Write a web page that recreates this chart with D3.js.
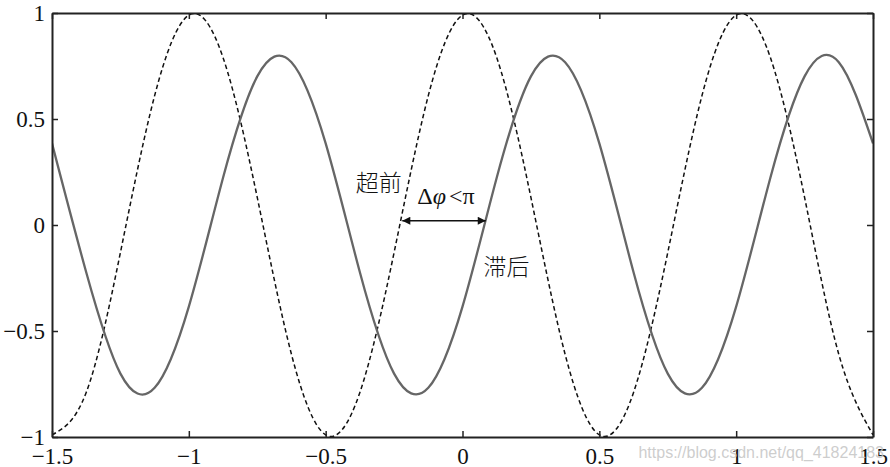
<!DOCTYPE html>
<html>
<head>
<meta charset="utf-8">
<script src="https://cdn.jsdelivr.net/npm/d3@7"></script>
<style>
  body { margin: 0; background: #fff; }
  svg { display: block; }
</style>
</head>
<body>
<div id="chart"></div>
<script>
// two sinusoids, dashed = reference, solid = lagging signal
// values every 0.125 on x

let xSamples = d3.range(25).map(k => -1.5 + k * 0.125)
let dashedY = [-0.99, -0.79, -0.13, 0.61, 0.99, 0.79, 0.13, -0.61,
               -0.99, -0.79, -0.13, 0.61, 0.99, 0.79, 0.13, -0.61,
               -0.99, -0.79, -0.13, 0.61, 0.99, 0.79, 0.13, -0.61, -0.99]
let solidY = [0.385, -0.223, -0.701, -0.768, -0.385, 0.223, 0.701, 0.768,
              0.385, -0.223, -0.701, -0.768, -0.385, 0.223, 0.701, 0.768,
              0.385, -0.223, -0.701, -0.768, -0.385, 0.223, 0.701, 0.768, 0.385]

let xTicks = [-1.5, -1, -0.5, 0, 0.5, 1, 1.5]
let yTicks = [-1, -0.5, 0, 0.5, 1]

// annotation anchors (data units)
let arrowFrom = [-0.22, 0.02]
let arrowTo = [0.085, 0.02]
let leadLabel = {text: '超前', x: -0.39, y: 0.2}
let lagLabel = {text: '滞后', x: 0.077, y: -0.2}
let phaseLabel = {x: -0.165, y: 0.1}

let margin = {top: 13, bottom: 30, left: 52, right: 17}
let width = 890 - margin.left - margin.right
let height = 467 - margin.top - margin.bottom

let svg = d3.select('#chart')
    .append('svg')
    .attr('width', 890)
    .attr('height', 467)

let g = svg.append('g')
    .attr('transform', `translate(${margin.left},${margin.top})`)

let x = d3.scaleLinear().domain([-1.5, 1.5]).range([0, width])
let y = d3.scaleLinear().domain([-1, 1]).range([height, 0])

let fmt = d => d3.format('')(d).replace('-', '\u2212')

g.append('defs').append('clipPath').attr('id', 'clip')
    .append('rect').attr('width', width).attr('height', height)

// curves
let line = d3.line()
    .x(d => x(d[0]))
    .y(d => y(d[1]))
    .curve(d3.curveNatural)

let curves = g.append('g').attr('clip-path', 'url(#clip)')

curves.append('path')
    .datum(xSamples.map((v, i) => [v, dashedY[i]]))
    .attr('d', line)
    .attr('fill', 'none')
    .attr('stroke', '#111')
    .attr('stroke-width', 1.5)
    .attr('stroke-dasharray', '4.5,3')

curves.append('path')
    .datum(xSamples.map((v, i) => [v, solidY[i]]))
    .attr('d', line)
    .attr('fill', 'none')
    .attr('stroke', '#666')
    .attr('stroke-width', 2.3)

// axes, ticks inside, box all around
let tickLen = 6
let axisFont = '"Liberation Serif", "Times New Roman", serif'

g.append('g')
    .attr('transform', `translate(0,${height})`)
    .call(d3.axisBottom(x).tickValues(xTicks).tickSizeInner(-tickLen).tickSizeOuter(0).tickPadding(11).tickFormat(fmt))
g.append('g')
    .call(d3.axisTop(x).tickValues(xTicks).tickSizeInner(-tickLen).tickSizeOuter(0).tickFormat(''))
g.append('g')
    .call(d3.axisLeft(y).tickValues(yTicks).tickSizeInner(-tickLen).tickSizeOuter(0).tickPadding(7).tickFormat(fmt))
g.append('g')
    .attr('transform', `translate(${width},0)`)
    .call(d3.axisRight(y).tickValues(yTicks).tickSizeInner(-tickLen).tickSizeOuter(0).tickFormat(''))

g.selectAll('.domain').attr('stroke', '#222').attr('stroke-width', 2)
g.selectAll('.tick line').attr('stroke', '#222').attr('stroke-width', 1.5)
g.selectAll('.tick text')
    .attr('font-family', axisFont)
    .attr('font-size', 23)
    .attr('fill', '#111')

// annotation: double arrow between the two zero crossings
let defs = svg.append('defs')
;['start', 'end'].forEach(k => {
    defs.append('marker')
        .attr('id', 'arr-' + k)
        .attr('viewBox', '0 0 10 10')
        .attr('refX', 10).attr('refY', 5)
        .attr('markerWidth', 10).attr('markerHeight', 8)
        .attr('markerUnits', 'userSpaceOnUse')
        .attr('orient', k == 'start' ? 'auto-start-reverse' : 'auto')
        .append('path')
        .attr('d', 'M0,0 L10,5 L0,10 Z')
        .attr('fill', '#111')
})

g.append('line')
    .attr('x1', x(arrowFrom[0])).attr('y1', y(arrowFrom[1]))
    .attr('x2', x(arrowTo[0])).attr('y2', y(arrowTo[1]))
    .attr('stroke', '#111')
    .attr('stroke-width', 1.6)
    .attr('marker-start', 'url(#arr-start)')
    .attr('marker-end', 'url(#arr-end)')

let cjkFont = '"Noto Sans CJK SC", sans-serif'
;[leadLabel, lagLabel].forEach(d => {
    g.append('text')
        .attr('x', x(d.x)).attr('y', y(d.y))
        .attr('dy', '0.35em')
        .attr('font-family', cjkFont)
        .attr('font-weight', 300)
        .attr('font-size', 23)
        .attr('fill', '#111')
        .text(d.text)
})

let phi = g.append('text')
    .attr('x', x(phaseLabel.x)).attr('y', y(phaseLabel.y))
    .attr('font-family', axisFont)
    .attr('font-size', 24)
    .attr('fill', '#111')
phi.append('tspan').text('\u0394')
phi.append('tspan').attr('font-style', 'italic').text('\u03c6')
phi.append('tspan').attr('dx', 3).text('<\u03c0')

// watermark
svg.append('text')
    .attr('x', 884).attr('y', 458)
    .attr('text-anchor', 'end')
    .attr('font-family', '"Liberation Sans", Arial, sans-serif')
    .attr('font-size', 16)
    .attr('fill', '#c4c4c4')
    .attr('fill-opacity', 0.85)
    .text('https://blog.csdn.net/qq_41824183')
</script>
</body>
</html>
